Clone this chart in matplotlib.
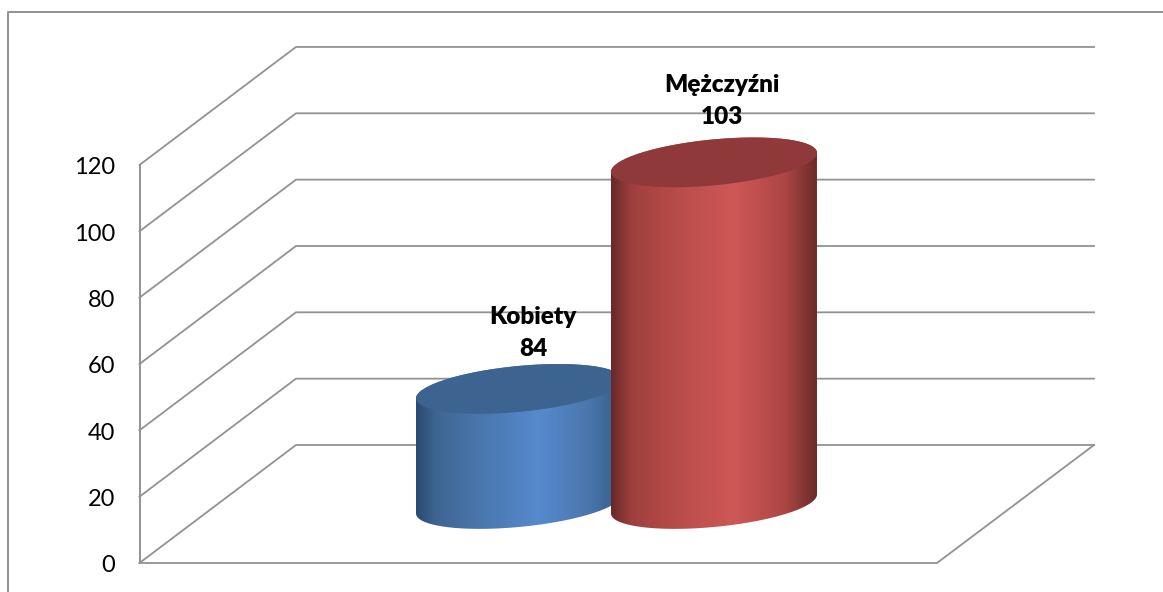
import matplotlib.pyplot as plt
import numpy as np
from matplotlib.colors import LinearSegmentedColormap
from matplotlib.path import Path
from matplotlib.patches import PathPatch

plt.rcParams['font.family'] = ['Lato', 'DejaVu Sans']

categories = ["Kobiety", "Mężczyźni"]
value_labels = [84, 103]
# the picture draws the blue cylinder far lower than its label says
drawn_heights = [34.7, 103]
y_ticks = [0, 20, 40, 60, 80, 100, 120]

body_colors = [
    [(0, "#2b4a6f"), (0.1, "#3f6693"), (0.35, "#4b79b2"), (0.6, "#568ace"), (0.85, "#4a75ab"), (1, "#345a86")],
    [(0, "#672927"), (0.1, "#9f403e"), (0.35, "#bb4e4b"), (0.6, "#ce5856"), (0.85, "#ab4644"), (1, "#6b2a29")],
]
top_colors = ["#3d6390", "#90393a"]

# pixel geometry of the fake 3d box
front_x = 139.5
back_x = 296
right_x = 1094
front_y0 = 563
back_y0 = 445
px_per_unit = 3.317

cyl_x0 = 519
cyl_dx = 195
cyl_base = 504
cyl_a = 103
cyl_b = 23
cyl_shear = 9.5

line_color = "#929292"


def ellipse(cx, cy, t):
    return cx + cyl_a * np.cos(t), cy - cyl_shear * np.cos(t) + cyl_b * np.sin(t)


fig = plt.figure(figsize=(11.63, 5.92), dpi=100)
ax = fig.add_axes([0, 0, 1, 1])

# outer frame
ax.plot([7.5, 7.5, 1163], [592, 11.5, 11.5], color=line_color, lw=1.4)

# walls and floor
ax.plot([front_x, front_x], [front_y0, front_y0 - 120 * px_per_unit], color=line_color, lw=1.4)
for v in y_ticks:
    ax.plot([front_x, back_x, right_x],
            [front_y0 - v * px_per_unit, back_y0 - v * px_per_unit, back_y0 - v * px_per_unit],
            color=line_color, lw=1.3)
    ax.text(115, front_y0 - v * px_per_unit + 3, str(v), ha="right", va="center",
            fontsize=17, color="black")
ax.plot([front_x, 937, right_x], [front_y0, front_y0, back_y0], color=line_color, lw=1.3)

# cylinders
for i, h in enumerate(drawn_heights):
    cx = cyl_x0 + i * cyl_dx
    top = cyl_base - h * px_per_unit
    t_low = np.linspace(np.pi, 0, 120)
    t_up = np.linspace(0, -np.pi, 120)
    xb, yb = ellipse(cx, cyl_base, t_low)
    xt, yt = ellipse(cx, top, t_up)
    verts = np.column_stack([np.r_[xb, xt], np.r_[yb, yt]])
    verts = np.vstack([verts, verts[0]])
    clip = PathPatch(Path(verts), fc="none", ec="none", transform=ax.transData)
    ax.add_patch(clip)
    cmap = LinearSegmentedColormap.from_list("body%d" % i, body_colors[i])
    im = ax.imshow(np.linspace(0, 1, 256).reshape(1, -1), cmap=cmap, aspect="auto",
                   extent=[cx - cyl_a, cx + cyl_a, cyl_base + 40, top - 40], zorder=3 + i)
    im.set_clip_path(clip)
    xe, ye = ellipse(cx, top, np.linspace(0, 2 * np.pi, 240))
    ax.fill(xe, ye, color=top_colors[i], lw=0, zorder=3 + i)

# data labels
label_dx = [14, 8]
label_dy = [72, 77]
for i, name in enumerate(categories):
    cx = cyl_x0 + i * cyl_dx
    top = cyl_base - drawn_heights[i] * px_per_unit
    ax.text(cx + label_dx[i], top - label_dy[i], name, ha="center", va="center",
            fontsize=17.5, fontweight="heavy", color="black", zorder=6)
    ax.text(cx + label_dx[i], top - label_dy[i] + 32, str(value_labels[i]), ha="center", va="center",
            fontsize=17.5, fontweight="heavy", color="black", zorder=6)

ax.set_xlim(0, 1163)
ax.set_ylim(592, 0)
ax.axis("off")

fig.savefig("out.png", dpi=100)
